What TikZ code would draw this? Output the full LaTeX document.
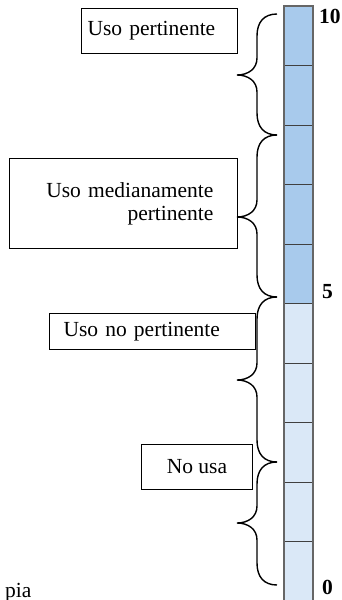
\documentclass[tikz,border=0pt]{standalone}
\usepackage{fontspec}
\setmainfont{Liberation Serif}
\usetikzlibrary{positioning}
\definecolor{upperblue}{RGB}{168,202,236}
\definecolor{lowerblue}{RGB}{218,232,247}
\newcommand{\curlybrace}[3]{%
  \draw[line width=1.4pt] (277,#1) .. controls (264,#1) and (257,#1+8) .. (257,#1+22)
    -- (257,#2-17) .. controls (257,#2-6) and (248,#2) .. (237,#2)
    .. controls (248,#2) and (257,#2+6) .. (257,#2+17)
    -- (257,#3-22) .. controls (257,#3-8) and (264,#3) .. (277,#3);}
\begin{document}
\begin{tikzpicture}[x=1pt,y=-1pt,
  every node/.style={font=\fontsize{21.5}{23}\selectfont},
  labelbox/.style={draw, line width=1pt, anchor=north west},
  cell/.style={draw=black!75, line width=1pt, minimum width=28pt, minimum height=59.5pt, inner sep=0pt, anchor=north west},
  scalenum/.style={anchor=base west, inner sep=0pt, font=\fontsize{21.5}{23}\selectfont\bfseries}
]
    \useasboundingbox (0,0) rectangle (341,600);
    % the scale bar
    \foreach \i in {0,...,9}{
        \ifnum\i<5 \def\cellcol{upperblue}\else\def\cellcol{lowerblue}\fi
        \node[cell, fill=\cellcol] (cell\i) at (284,{5.5+59.5*\i}) {};
    }
    \draw[black!60, line width=2pt] (cell9.south west) -- (cell0.north west) -- (cell0.north east) -- (cell9.south east);
    \node[scalenum] (n10) at (319,23) {10};
    \node[scalenum] (n5) at (322,298) {5};
    \node[scalenum] (n0) at (322,594) {0};
    % braces
    \curlybrace{14}{75}{135}
    \curlybrace{135}{217}{297}
    \curlybrace{297}{380}{462}
    \curlybrace{462}{523}{585}
    % boxes
    \node[labelbox, minimum height=45pt, text width=144pt, inner xsep=6pt, align=left] (pert) at (81,8) {Uso pertinente};
    \node[labelbox, minimum height=90pt, text width=180pt, inner xsep=24pt, align=right] (medi) at (9,158) {Uso medianamente\\pertinente};
    \node[labelbox, minimum height=36pt, text width=178pt, inner xsep=14pt, align=left] (nopert) at (49,313) {Uso no pertinente};
    \node[labelbox, minimum height=45pt, minimum width=111pt, align=center] (nousa) at (141,444) {No usa};
    \node[anchor=base west, inner sep=0pt] (src) at (5,597) {pia};
\end{tikzpicture}
\end{document}
